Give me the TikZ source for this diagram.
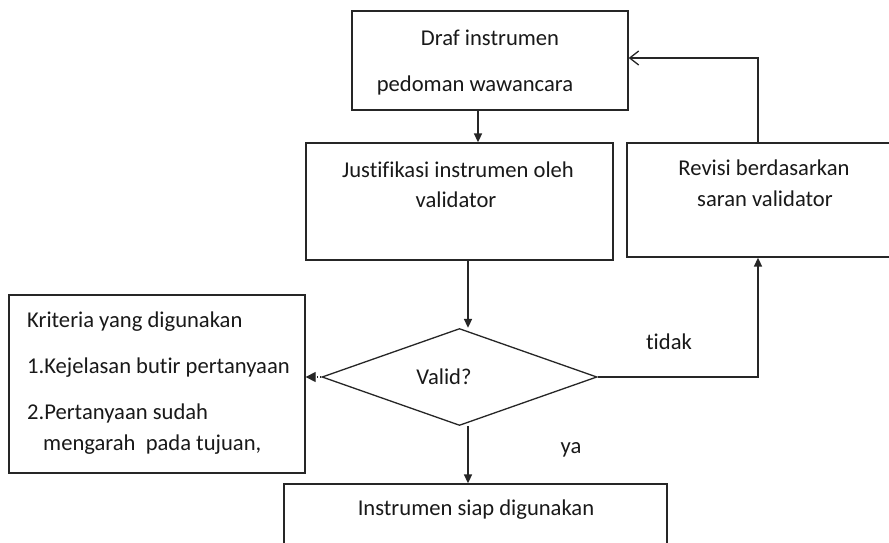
\documentclass[tikz,border=0pt]{standalone}
\usepackage{fontspec}
\setmainfont{Carlito}[Ligatures={NoCommon,NoContextual}]
\usetikzlibrary{arrows.meta,shapes.geometric}
\begin{document}
\begin{tikzpicture}[x=1pt,y=-1pt,
  box/.style={draw=black!85,line width=1.3pt,rectangle,inner sep=0pt},
  txt/.style={inner sep=0pt,font=\fontsize{22.6}{26}\selectfont,text=black!90},
  arr/.style={draw=black!85,line width=1.6pt,-{Triangle[length=9pt,width=8pt]}},
  line/.style={draw=black!85,line width=1.3pt}]
\useasboundingbox (0,0) rectangle (889,543);
\clip (0,0) rectangle (889,543);
\fill[white] (0,0) rectangle (889,543);
% boxes
\node[box,minimum width=276pt,minimum height=99pt] (draf) at (490,60.5) {};
\node[box,minimum width=307pt,minimum height=117pt] (just) at (459.5,201.5) {};
\node[box,minimum width=280pt,minimum height=114pt] (rev) at (767,200) {};
\node[box,minimum width=296pt,minimum height=178pt] (krit) at (157,384) {};
\node[box,minimum width=383pt,minimum height=90pt] (inst) at (475.5,529) {};
\node[draw=black!85,line width=1.3pt,diamond,aspect=2.84,inner sep=0pt,minimum width=275pt,minimum height=97pt] (valid) at (459.5,377) {};
% texts
\node[txt] (t1) at (490,38) {Draf instrumen};
\node[txt] (t2) at (475,85) {pedoman wawancara};
\node[txt] (t3) at (458,170) {Justifikasi instrumen oleh};
\node[txt] (t4) at (456,200) {validator};
\node[txt] (t5) at (764,168) {Revisi berdasarkan};
\node[txt] (t6) at (765,199) {saran validator};
\node[txt] (t7) at (444,377) {Valid?};
\node[txt] (t8) at (476,510) {Instrumen siap digunakan};
\node[txt,anchor=west] (k1) at (27,322) {Kriteria yang digunakan};
\node[txt,anchor=west] (k2) at (27,368) {1.Kejelasan butir pertanyaan};
\node[txt,anchor=west] (k3) at (27,413) {2.Pertanyaan sudah};
\node[txt,anchor=west] (k4) at (43,445) {mengarah\ \ pada tujuan,};
\node[txt] (tidak) at (669,342) {tidak};
\node[txt] (ya) at (571,450) {ya};
% helper coordinates
\coordinate (c1) at (478,0);
\coordinate (c2) at (468,0);
\coordinate (c3) at (758,0);
\coordinate (c4) at (0,58);
% connectors
\draw[arr] (draf.south -| c1) -- (just.north -| c1);
\draw[arr] (just.south -| c2) -- (valid.north -| c2);
\draw[arr] (valid.south -| c2) -- (inst.north -| c2);
\draw[arr] (valid.east) -| (rev.south -| c3);
\draw[line,-{Straight Barb[length=9pt,width=14pt]}] (rev.north -| c3) |- (draf.east |- c4);
\draw[draw=black!85,line width=1.3pt,dotted,-{Triangle[length=10pt,width=10pt]}] (valid.west) -- (krit.east |- valid.west);
\end{tikzpicture}
\end{document}
